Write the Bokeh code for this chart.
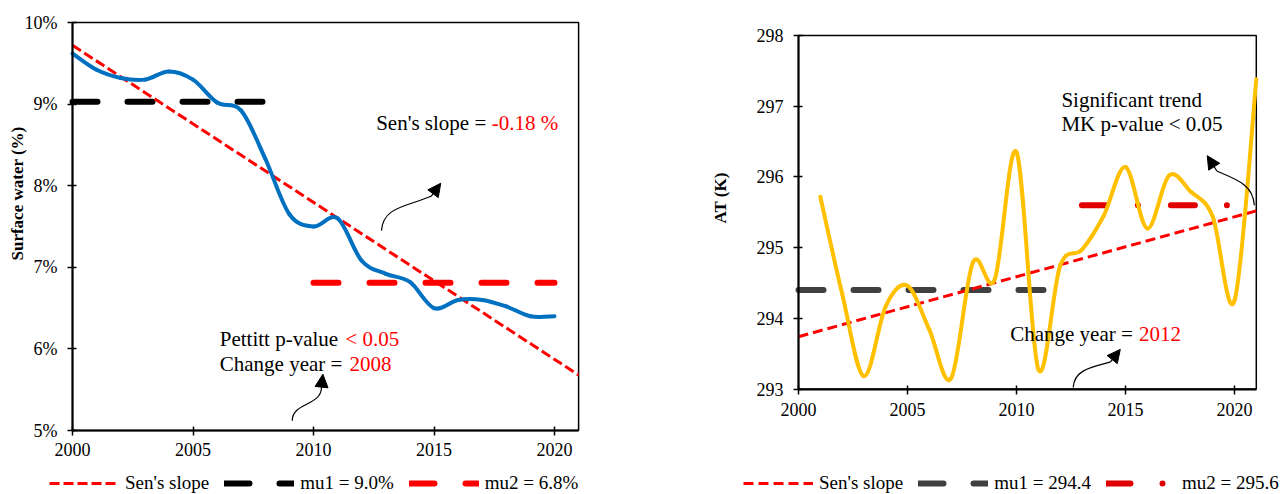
from math import pi
from bokeh.plotting import figure
from bokeh.layouts import row
from bokeh.models import (Range1d, FixedTicker, Label, Legend, LegendItem,
                          Arrow, NormalHead)
from bokeh.embed import file_html
from bokeh.resources import INLINE

FONT = "Liberation Serif"
H = 494

# ---------------- data: left chart (surface water) ----------------
sw_years = list(range(2000, 2021))
sw_values = [9.62, 9.42, 9.32, 9.30, 9.40, 9.30, 9.02, 8.92, 8.33, 7.65, 7.50,
             7.60, 7.08, 6.92, 6.82, 6.50, 6.60, 6.60, 6.52, 6.40, 6.40]
sw_sen_x = [2000, 2021]
sw_sen_y = [9.72, 5.68]
sw_mu1_x = [2000, 2008]
sw_mu1_y = [9.03, 9.03]
sw_mu2_x = [2010, 2020]
sw_mu2_y = [6.81, 6.81]
sw_xlim = (2000, 2021)
sw_ylim = (5, 10)
sw_yticks = [5, 6, 7, 8, 9, 10]
sw_ytick_labels = ["5%", "6%", "7%", "8%", "9%", "10%"]

# ---------------- data: right chart (air temperature) ----------------
at_years = list(range(2001, 2022))
at_values = [295.72, 294.35, 293.18, 294.17, 294.46, 293.84, 293.15, 294.79,
             294.55, 296.35, 293.28, 294.74, 294.97, 295.45, 296.14, 295.27,
             296.02, 295.79, 295.44, 294.25, 297.38]
at_sen_x = [2000, 2021]
at_sen_y = [293.74, 295.52]
at_mu1_x = [2000, 2012]
at_mu1_y = [294.4, 294.4]
at_mu2_x = [2013, 2021]
at_mu2_y = [295.6, 295.6]
at_xlim = (2000, 2021)
at_ylim = (293, 298)
at_yticks = [293, 294, 295, 296, 297, 298]

x_ticks = [2000, 2005, 2010, 2015, 2020]


def smooth_segments(xs, ys):
    """Bezier control points (Excel-style smoothed line) from the data."""
    n = len(xs)
    d = dict(x0=[], y0=[], x1=[], y1=[], cx0=[], cy0=[], cx1=[], cy1=[])
    for i in range(n - 1):
        xp, yp = (xs[i - 1], ys[i - 1]) if i > 0 else (xs[i], ys[i])
        xn, yn = (xs[i + 2], ys[i + 2]) if i + 2 < n else (xs[i + 1], ys[i + 1])
        d["x0"].append(xs[i]); d["y0"].append(ys[i])
        d["x1"].append(xs[i + 1]); d["y1"].append(ys[i + 1])
        d["cx0"].append(xs[i] + (xs[i + 1] - xp) / 6.0)
        d["cy0"].append(ys[i] + (ys[i + 1] - yp) / 6.0)
        d["cx1"].append(xs[i + 1] - (xn - xs[i]) / 6.0)
        d["cy1"].append(ys[i + 1] - (yn - ys[i]) / 6.0)
    return d


def span_range(pa, va, pb, vb, size, flip=False):
    """Range covering pixels 0..size given that pixel pa shows va and pb shows vb."""
    k = (vb - va) / (pb - pa)
    a, b = va - pa * k, va + (size - pa) * k
    return Range1d(b, a) if flip else Range1d(a, b)


def make_fig(width, xr, yr, xlim, ylim, yticks, xstand):
    p = figure(width=width, height=H, x_range=xr, y_range=yr, title=None,
               output_backend="svg", toolbar_location=None, min_border=0,
               min_border_left=0, min_border_right=0, min_border_top=0, min_border_bottom=0)
    p.xgrid.visible = False
    p.ygrid.visible = False
    p.outline_line_color = None
    p.background_fill_color = "white"
    p.border_fill_color = "white"
    # chart box (top and right edges; left/bottom are the axes)
    p.quad(left=[xlim[0]], right=[xlim[1]], bottom=[ylim[0]], top=[ylim[1]],
           fill_color=None, line_color="black", line_width=1.5)
    xa, ya = p.xaxis[0], p.yaxis[0]
    xa.fixed_location = ylim[0]
    ya.fixed_location = xlim[0]
    xa.bounds = xlim
    ya.bounds = ylim
    xa.ticker = FixedTicker(ticks=x_ticks)
    ya.ticker = FixedTicker(ticks=yticks)
    for ax in (xa, ya):
        ax.axis_line_color = "black"
        ax.axis_line_width = 2
        ax.major_tick_line_color = "black"
        ax.major_tick_line_width = 1.5
        ax.major_tick_in = 4
        ax.major_tick_out = 5
        ax.minor_tick_line_color = None
        ax.major_label_text_font = FONT
        ax.major_label_text_font_size = "18px"
        ax.major_label_text_color = "black"
    xa.major_label_standoff = xstand
    ya.major_label_standoff = 10
    return p


def txt(p, x, y, s, color="black", align="left"):
    p.add_layout(Label(x=x, y=y, text=s, text_font=FONT, text_font_size="21px",
                       text_color=color, text_align=align, text_baseline="middle"))


def ylabel(p, x, y, s):
    p.add_layout(Label(x=x, y=y, x_units="screen", y_units="screen", angle=pi / 2,
                       text=s, text_font=FONT, text_font_size="17px",
                       text_font_style="bold", text_align="left", text_baseline="middle",
                       text_color="black"))


def curved_arrow(p, x0, y0, cx0, cy0, cx1, cy1, x1, y1, tx, ty):
    p.bezier(x0=[x0], y0=[y0], x1=[x1], y1=[y1], cx0=[cx0], cy0=[cy0],
             cx1=[cx1], cy1=[cy1], line_color="black", line_width=1.2)
    p.add_layout(Arrow(end=NormalHead(size=13, fill_color="black", line_color="black"),
                       x_start=x1, y_start=y1, x_end=tx, y_end=ty,
                       line_color="black", line_width=1.2))


def make_legend(p, items, loc, spacing):
    lg = Legend(items=items, location=loc, orientation="horizontal",
                border_line_color=None, background_fill_alpha=0,
                padding=0, margin=0, spacing=spacing, label_standoff=6,
                glyph_width=70, glyph_height=18, label_height=18,
                label_text_font=FONT, label_text_font_size="19px",
                label_text_color="black", label_text_baseline="middle")
    p.add_layout(lg)


# ---------------- left figure ----------------
W1 = 640
p1 = make_fig(W1, span_range(72, 2000, 554, 2020, W1),
              span_range(22, 10, 430, 5, H, flip=True),
              sw_xlim, sw_ylim, sw_yticks, 7)
p1.yaxis[0].major_label_overrides = dict(zip(sw_yticks, sw_ytick_labels))

r1_mu1 = p1.line(sw_mu1_x, sw_mu1_y, line_color="black", line_width=6,
                 line_dash="25 30", line_cap="round")
r1_mu2 = p1.line(sw_mu2_x, sw_mu2_y, line_color="#FF0000", line_width=6,
                 line_dash="25 31", line_cap="round")
r1_sen = p1.line(sw_sen_x, sw_sen_y, line_color="#FF0000", line_width=3, line_dash="10 4")
p1.bezier(**smooth_segments(sw_years, sw_values),
          line_color="#0070C0", line_width=4, line_cap="round")

txt(p1, 2012.6, 8.77, "Sen's slope =")
txt(p1, 2017.4, 8.77, "-0.18 %", color="#FF0000")
txt(p1, 2006.11, 6.12, "Pettitt p-value")
txt(p1, 2011.32, 6.12, "< 0.05", color="#FF0000")
txt(p1, 2006.11, 5.82, "Change year =")
txt(p1, 2011.49, 5.82, "2008", color="#FF0000")
curved_arrow(p1, 2012.82, 7.45, 2012.9, 7.74, 2013.8, 7.74, 2014.88, 7.87, 2015.28, 8.03)
curved_arrow(p1, 2009.12, 5.12, 2009.1, 5.34, 2010.3, 5.3, 2010.33, 5.52, 2010.39, 5.69)

ylabel(p1, 17, H - 260, "Surface water (%)")

make_legend(p1, [LegendItem(label="Sen's slope", renderers=[r1_sen]),
                 LegendItem(label="mu1 = 9.0%", renderers=[r1_mu1]),
                 LegendItem(label="mu2 = 6.8%", renderers=[r1_mu2])], (49, 0), 15)

# ---------------- right figure ----------------
W2 = 642
p2 = make_fig(W2, span_range(158, 2000, 594, 2020, W2),
              span_range(35, 298, 388.5, 293, H, flip=True),
              at_xlim, at_ylim, at_yticks, 9)

r2_mu1 = p2.line(at_mu1_x, at_mu1_y, line_color="#404040", line_width=6,
                 line_dash="25 30", line_cap="round")
r2_mu2 = p2.line(at_mu2_x, at_mu2_y, line_color="#E00000", line_width=6,
                 line_dash="24 32 0 33", line_cap="round")
r2_sen = p2.line(at_sen_x, at_sen_y, line_color="#FF0000", line_width=3, line_dash="10 5")
p2.bezier(**smooth_segments(at_years, at_values),
          line_color="#FFC000", line_width=4, line_cap="round")

txt(p2, 2012.06, 297.09, "Significant trend")
txt(p2, 2012.06, 296.75, "MK p-value < 0.05")
txt(p2, 2009.71, 293.78, "Change year =")
txt(p2, 2015.62, 293.78, "2012", color="#FF0000")
curved_arrow(p2, 2020.91, 295.6, 2020.85, 295.88, 2020.2, 295.95, 2019.2, 296.08, 2018.75, 296.3)
curved_arrow(p2, 2012.6, 293.02, 2012.65, 293.26, 2013.3, 293.3, 2014.3, 293.38, 2014.76, 293.56)

ylabel(p2, 80, H - 223, "AT (K)")

make_legend(p2, [LegendItem(label="Sen's slope", renderers=[r2_sen]),
                 LegendItem(label="mu1 = 294.4", renderers=[r2_mu1]),
                 LegendItem(label="mu2 = 295.6", renderers=[r2_mu2])], (103, 0), 15)

layout = row(p1, p2)
open("out.html", "w").write(file_html(layout, INLINE))
